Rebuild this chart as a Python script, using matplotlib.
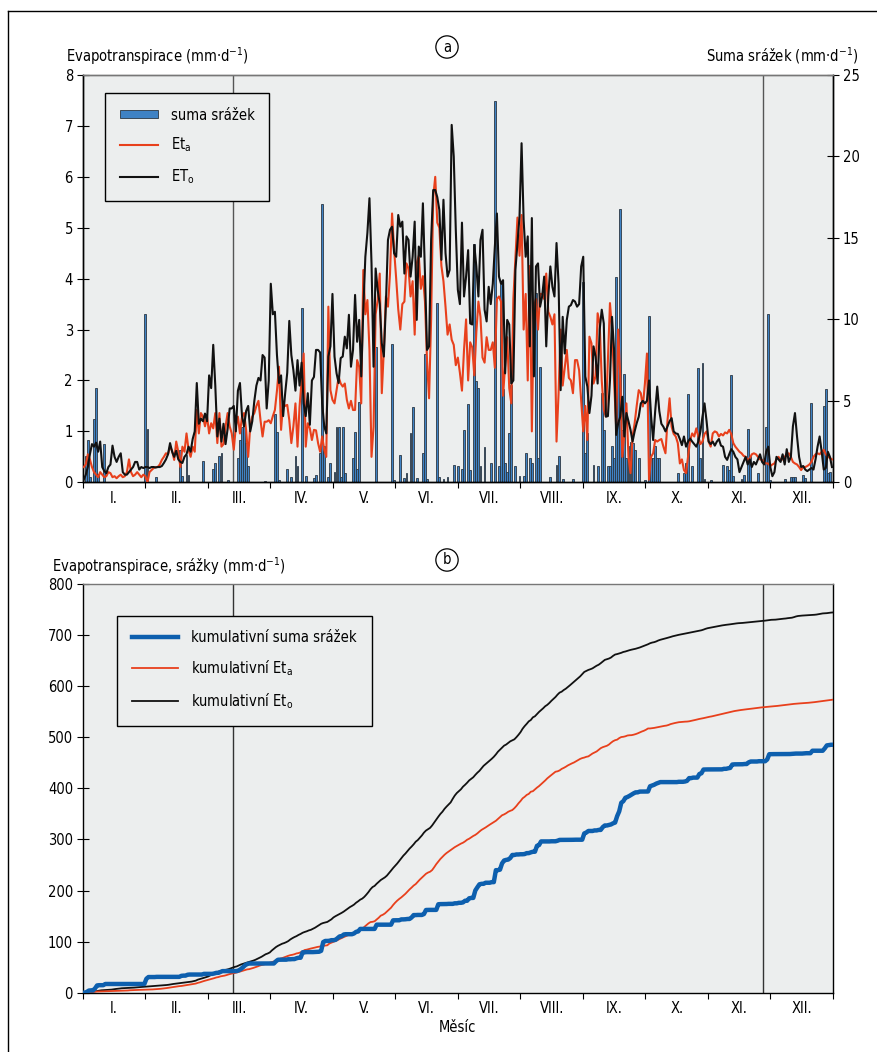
import os
import numpy as np
import matplotlib
matplotlib.use("Agg")
import matplotlib.pyplot as plt
from matplotlib import font_manager as fm
from matplotlib.patches import Patch
from matplotlib.lines import Line2D

# the reference uses a condensed sans; take one if installed
cond = [f for f in fm.fontManager.ttflist
        if 'Narrow' in f.name or 'Condensed' in f.name
        or 'Condensed' in os.path.basename(f.fname)
        or f.stretch in ('condensed', 'semi-condensed', 'extra-condensed')]
cond.sort(key=lambda f: (0 if 'Liberation' in f.name else 1, 'Bold' in f.fname, 'Oblique' in f.fname or 'Italic' in f.fname))
if cond:
    plt.rcParams['font.family'] = [cond[0].name, 'DejaVu Sans']
    plt.rcParams['font.stretch'] = cond[0].stretch if cond[0].stretch != 'normal' else 'condensed'
    FS = 10.5
else:
    plt.rcParams['font.family'] = ['Liberation Sans', 'DejaVu Sans']
    FS = 10.0

### DATA ###

months = ['I.', 'II.', 'III.', 'IV.', 'V.', 'VI.', 'VII.', 'VIII.', 'IX.', 'X.', 'XI.', 'XII.']
season_marks = [73, 331]   # days marked by the vertical lines

# daily reference evapotranspiration ET_o (mm/d), Jan..Dec
eto = [
    0.05, 0.15, 0.3, 0.55, 0.75, 0.7, 0.78, 0.6, 0.8, 0.3, 0.22, 0.18, 0.3, 0.35, 0.72, 0.5,
    0.4, 0.5, 0.57, 0.2, 0.15, 0.15, 0.2, 0.25, 0.3, 0.4, 0.4, 0.25, 0.3, 0.28, 0.3,
    0.3, 0.28, 0.3, 0.3, 0.29, 0.3, 0.3, 0.32, 0.38, 0.45, 0.55, 0.77, 0.6, 0.5, 0.62, 0.45,
    0.4, 0.38, 0.5, 0.55, 0.7, 0.6, 0.85, 1.0, 1.95, 1.15, 1.25, 1.2,
    1.35, 1.2, 2.1, 1.85, 2.7, 1.9, 0.9, 1.25, 0.8, 1.15, 0.75, 1.05, 1.45, 1.45, 1.5, 1.0,
    1.8, 1.95, 1.3, 1.1, 1.4, 1.5, 1.0, 1.2, 1.6, 1.9, 2.05, 2.0, 2.5, 2.45, 1.45,
    2.0, 3.9, 3.3, 3.35, 2.5, 1.95, 2.1, 1.3, 1.75, 2.15, 3.17, 2.5, 2.2, 1.8, 2.4, 1.9,
    2.35, 1.55, 1.3, 1.75, 1.13, 2.0, 2.07, 2.6, 2.6, 2.55, 1.55, 1.1, 0.96, 2.47, 2.67,
    3.7, 2.47, 2.14, 1.95, 2.44, 2.47, 2.86, 2.63, 3.29, 2.27, 2.6, 3.68, 2.76, 3.19, 2.08, 3.39,
    4.43, 4.9, 5.58, 4.3, 2.27, 4.2, 3.78, 3.5, 2.73, 2.47, 3.5, 4.76, 4.96, 5.02, 4.5,
    4.43, 5.25, 5.02, 5.12, 4.1, 4.83, 4.76, 4.04, 4.43, 5.12, 3.19, 4.63, 4.43, 5.48, 4.1,
    2.6, 2.67, 4.76, 5.74, 5.74, 5.6, 5.35, 4.37, 5.55, 4.5, 4.04, 4.17, 7.02, 6.4, 4.96,
    3.78, 3.5, 5.1, 3.65, 4.04, 4.56, 3.12, 3.1, 4.66, 4.24, 3.65, 4.76, 4.96, 3.39, 3.16, 3.84,
    3.5, 3.9, 4.63, 5.28, 4.04, 3.9, 3.97, 2.14, 3.19, 3.1, 1.94, 2.0, 4.17, 4.7, 5.22,
    6.66, 5.15, 4.43, 4.83, 2.67, 5.19, 2.08, 4.24, 4.3, 3.45, 3.65, 4.04, 2.67, 3.65, 4.24, 3.84,
    3.65, 4.7, 3.9, 1.81, 3.25, 2.53, 3.19, 3.45, 3.48, 3.58, 3.55, 3.45, 3.5, 4.24, 4.43,
    2.08, 1.88, 1.36, 1.7, 2.67, 2.47, 1.94, 3.0, 3.39, 3.12, 1.29, 1.3, 2.0, 3.25, 2.6,
    0.93, 1.16, 1.29, 1.68, 0.9, 1.36, 1.2, 1.03, 0.8, 1.0, 1.16, 1.29, 1.55, 1.6, 1.55,
    1.6, 2.0, 1.3, 0.83, 1.4, 1.88, 1.4, 1.15, 1.09, 1.0, 1.1, 1.2, 1.26, 1.0, 0.96, 0.95,
    0.85, 0.73, 0.9, 0.7, 0.8, 0.86, 0.8, 0.75, 0.7, 0.8, 1.0, 1.29, 1.55, 1.2, 0.8,
    0.75, 0.8, 0.72, 0.8, 0.85, 0.72, 0.7, 0.5, 0.44, 0.55, 0.65, 0.6, 0.5, 0.45, 0.2,
    0.3, 0.4, 0.5, 0.35, 0.45, 0.3, 0.4, 0.35, 0.45, 0.55, 0.4, 0.35, 0.6, 0.7, 0.3,
    0.12, 0.2, 0.5, 0.45, 0.4, 0.55, 0.35, 0.65, 0.4, 0.5, 1.1, 1.36, 0.9, 0.5, 0.3,
    0.32, 0.25, 0.22, 0.25, 0.28, 0.25, 0.45, 0.7, 0.9, 0.6, 0.25, 0.28, 0.6, 0.5, 0.3,
]

# daily actual evapotranspiration Et_a (mm/d)
eta = [
    0.3, 0.35, 0.55, 0.45, 0.3, 0.2, 0.15, 0.1, 0.2, 0.15, 0.1, 0.12, 0.2, 0.18, 0.1, 0.12,
    0.08, 0.12, 0.15, 0.1, 0.12, 0.2, 0.45, 0.2, 0.12, 0.15, 0.2, 0.15, 0.1, 0.15, 0.12,
    0.0, 0.2, 0.24, 0.28, 0.3, 0.3, 0.35, 0.44, 0.5, 0.57, 0.55, 0.7, 0.62, 0.44, 0.8, 0.6,
    0.3, 0.7, 0.6, 0.96, 0.64, 0.5, 0.7, 0.6, 1.42, 0.96, 1.36, 1.29,
    1.1, 1.29, 0.96, 1.16, 1.06, 1.36, 0.77, 1.36, 0.7, 0.75, 1.1, 1.36, 1.1, 0.96, 0.64, 1.1,
    1.29, 0.96, 1.29, 1.36, 1.03, 0.5, 1.1, 1.29, 1.36, 1.5, 1.6, 1.22, 0.9, 1.19, 1.19,
    1.22, 1.16, 1.3, 1.42, 1.8, 2.27, 1.03, 1.55, 1.5, 1.52, 1.22, 0.77, 1.1, 1.55, 0.7, 1.49,
    2.0, 2.53, 0.7, 1.16, 1.06, 0.83, 1.03, 1.02, 0.77, 0.6, 0.9, 0.64, 0.5, 3.45, 1.81,
    1.62, 1.55, 1.81, 2.07, 1.94, 1.88, 1.94, 1.62, 1.45, 1.6, 1.42, 1.42, 2.4, 2.27, 1.55, 4.17,
    3.3, 3.58, 2.6, 0.5, 1.09, 3.3, 3.58, 4.1, 1.75, 2.6, 3.65, 3.45, 4.1, 5.28, 4.56,
    4.0, 3.4, 3.0, 3.5, 3.55, 4.3, 4.2, 3.65, 3.95, 2.9, 4.3, 4.45, 3.8, 4.05, 3.55,
    2.4, 1.65, 3.2, 5.6, 6.0, 5.1, 5.0, 4.25, 3.95, 3.45, 2.9, 3.1, 2.8, 2.7, 2.3,
    2.45, 2.15, 1.8, 2.6, 3.2, 2.0, 2.75, 2.65, 2.1, 2.95, 3.55, 3.25, 2.45, 2.35, 2.85, 2.6,
    2.6, 2.75, 2.25, 3.6, 3.65, 3.55, 1.7, 2.3, 2.85, 1.85, 1.55, 3.6, 4.4, 5.2, 4.45,
    5.25, 3.0, 3.7, 2.0, 4.25, 1.0, 3.45, 3.6, 3.0, 3.7, 3.7, 3.6, 4.1, 3.35, 3.25, 3.1,
    3.3, 0.8, 1.75, 3.0, 1.9, 2.25, 2.6, 2.05, 2.0, 1.75, 2.4, 2.4, 2.2, 1.6, 1.0,
    1.5, 0.83, 2.86, 2.73, 1.94, 2.08, 3.32, 3.12, 2.0, 1.42, 1.29, 2.4, 3.52, 3.0, 2.0,
    1.09, 3.0, 2.08, 0.5, 0.96, 1.55, 0.5, 0.18, 0.9, 1.16, 1.5, 1.81, 1.75, 1.49, 1.94,
    2.53, 0.05, 0.5, 0.57, 0.83, 0.8, 0.83, 0.85, 0.7, 0.57, 1.22, 1.65, 1.09, 0.95, 0.9, 0.77,
    0.37, 0.45, 0.24, 0.18, 0.5, 0.83, 0.96, 0.9, 1.06, 0.9, 0.75, 0.8, 0.95, 1.0, 0.8,
    0.7, 0.96, 1.0, 0.98, 0.9, 0.95, 0.92, 0.98, 0.96, 1.03, 0.95, 0.77, 0.7, 0.65, 0.6,
    0.57, 0.52, 0.5, 0.44, 0.47, 0.55, 0.57, 0.55, 0.5, 0.45, 0.44, 0.4, 0.37, 0.37, 0.32,
    0.35, 0.37, 0.45, 0.5, 0.44, 0.45, 0.5, 0.55, 0.57, 0.5, 0.4, 0.37, 0.35, 0.3, 0.24,
    0.3, 0.3, 0.32, 0.35, 0.4, 0.5, 0.55, 0.57, 0.55, 0.6, 0.64, 0.55, 0.5, 0.48, 0.45,
]

# days with precipitation (day of year, 0 = 1 Jan) and daily sums (mm)
rain_day = [
    1, 2, 3, 5, 6, 7, 10, 30, 31, 35, 47, 48, 50, 51, 58,
    63, 64, 66, 67, 70, 75, 76, 77, 78, 79, 80, 88,
    93, 94, 95, 99, 101, 103, 104, 106, 108, 112, 113,
    115, 116, 117, 119, 120, 122, 123, 124, 125, 126, 127, 131, 132, 133, 134, 142, 150, 151,
    154, 156, 157, 159, 160, 162, 165, 166, 167, 172, 173, 175, 177, 180, 182,
    184, 185, 187, 188, 190, 191, 192, 193, 195, 198, 200, 202, 203, 204, 205, 206, 207, 208,
    210, 212, 214, 215, 217, 218, 220, 221, 222, 227, 230, 231, 233, 238,
    243, 244, 245, 248, 250, 252, 253, 255, 256, 257, 258, 259, 260, 261, 262, 263, 264, 265, 266,
    267, 268, 270, 273, 275, 276, 277, 278, 279, 280, 289, 292, 293, 294, 296, 299, 300, 301, 302,
    305, 311, 313, 314, 315, 316, 320, 321, 323, 324, 328, 332, 333, 334,
    341, 344, 345, 346, 350, 351, 354, 360, 361, 362, 363,
]
rain_mm = [
    1.6, 2.6, 0.3, 3.9, 5.8, 0.5, 2.35, 10.3, 3.3, 0.35, 2.0, 0.4, 1.7, 0.45, 1.3,
    0.8, 1.2, 1.6, 1.8, 0.15, 1.5, 2.6, 3.4, 3.8, 2.4, 1.0, 0.1,
    4.2, 3.1, 0.15, 0.8, 0.35, 1.6, 1.0, 10.7, 0.4, 0.25, 0.45,
    1.8, 17.1, 2.2, 0.3, 1.2, 0.65, 3.4, 3.4, 0.3, 3.4, 0.55, 1.5, 3.1, 0.8, 4.95, 8.3, 8.5, 0.15,
    1.7, 0.25, 0.55, 3.0, 4.65, 0.25, 1.8, 7.9, 0.2, 11.0, 0.3, 0.2, 0.3, 1.06, 1.0,
    0.8, 3.2, 4.8, 0.75, 14.6, 6.2, 5.8, 1.0, 2.15, 1.2, 23.4, 1.0, 12.2, 5.7, 1.2, 0.65, 3.0, 6.0,
    1.0, 0.4, 0.4, 1.8, 1.5, 1.2, 11.6, 1.5, 7.1, 0.3, 1.06, 1.6, 0.2, 0.2,
    12.3, 1.8, 3.0, 1.06, 1.0, 5.5, 3.2, 1.0, 1.0, 2.2, 1.5, 12.6, 9.35, 16.75, 3.2, 6.65, 1.5, 2.2, 2.5,
    2.4, 2.0, 1.5, 0.15, 10.2, 1.5, 1.5, 2.2, 1.5, 1.5, 0.6, 0.6, 1.2, 5.4, 1.0, 7.0, 1.5, 7.3, 0.2,
    0.15, 1.06, 1.0, 0.75, 6.6, 0.4, 0.2, 0.45, 3.3, 1.6, 0.6, 3.4, 10.3, 0.15,
    0.2, 0.3, 0.3, 0.3, 0.45, 0.25, 4.85, 4.7, 5.7, 0.6, 0.65,
]

### BUILD ###

ndays = len(eto)
rain = np.zeros(ndays)
rain[rain_day] = rain_mm
days = np.arange(ndays) + 0.5
cum_x = np.arange(ndays + 1)
cum_rain = np.concatenate([[0], np.cumsum(rain)])
cum_eta = np.concatenate([[0], np.cumsum(eta)])
cum_eto = np.concatenate([[0], np.cumsum(eto)])

month_edges = np.arange(13) * ndays / 12
month_mid = month_edges[:-1] + ndays / 24

BG = '#eceeee'
BAR = '#3f82c4'
BAR_EDGE = '#2b3742'
RED = '#e8401c'
BLUE = '#0d5fae'

W, H = 878, 1052
fig = plt.figure(figsize=(W / 100, H / 100), dpi=100)

def box(x0, y0, x1, y1):
    return [x0 / W, 1 - y1 / H, (x1 - x0) / W, (y1 - y0) / H]

def months_axis(ax):
    ax.set_xlim(0, ndays)
    ax.set_xticks(month_edges)
    ax.set_xticklabels([])
    ax.set_xticks(month_mid, minor=True)
    ax.set_xticklabels(months, minor=True, fontsize=FS)
    ax.tick_params(axis='x', which='major', direction='out', length=4, width=0.8)
    ax.tick_params(axis='x', which='minor', length=0, pad=6)

def style(ax):
    ax.spines['top'].set_color('#777777')
    for s in ['left', 'bottom', 'right']:
        ax.spines[s].set_color('black')
    for s in ax.spines.values():
        s.set_linewidth(1.0)

### PANEL A ###

axr = fig.add_axes(box(82.7, 75, 833, 482.3))
axr.set_facecolor(BG)
axr.bar(days, rain, width=0.9, color=BAR, edgecolor=BAR_EDGE, linewidth=0.6, zorder=2)
axr.set_ylim(0, 25)
axr.set_yticks(range(0, 26, 5))
for d in season_marks:
    axr.axvline(d, color='#555555', lw=1.0, zorder=1)
months_axis(axr)
style(axr)

axl = axr.twinx()
axl.plot(days, eta, color=RED, lw=1.5, zorder=3)
axl.plot(days, eto, color='#111111', lw=1.5, zorder=4)
axl.set_ylim(0, 8)
axl.set_yticks(range(0, 9))
axl.set_xlim(0, ndays)
style(axl)

# rain scale on the right, evapotranspiration scale on the left
axr.yaxis.tick_right()
axl.yaxis.tick_left()
for a in (axr, axl):
    a.tick_params(axis='y', direction='inout', length=8, width=0.8, labelsize=FS, pad=3)

handles = [
    Patch(facecolor=BAR, edgecolor=BAR_EDGE, linewidth=0.6),
    Line2D([], [], color=RED, lw=1.5),
    Line2D([], [], color='#111111', lw=1.5),
]
labels = ['suma srážek', r'Et$_\mathregular{a}$', r'ET$_\mathregular{o}$']
leg = axl.legend(handles, labels, loc='upper left', bbox_to_anchor=(0.03, 0.956),
                 fontsize=FS, frameon=True, fancybox=False, edgecolor='black',
                 facecolor=BG, framealpha=1, borderpad=1.0, labelspacing=0.9,
                 handlelength=2.6, handleheight=0.45, handletextpad=0.9, borderaxespad=0)
leg.get_frame().set_linewidth(1.0)

fig.text(66 / W, 1 - 56 / H, r'Evapotranspirace (mm·d$^{\mathregular{-1}}$)', fontsize=FS,
         ha='left', va='center')
fig.text(858 / W, 1 - 56 / H, r'Suma srážek (mm·d$^{\mathregular{-1}}$)', fontsize=FS,
         ha='right', va='center')
fig.text(447 / W, 1 - 47 / H, 'a', fontsize=FS, ha='center', va='center',
         bbox=dict(boxstyle='circle,pad=0.25', facecolor='white', edgecolor='black', lw=0.9))

### PANEL B ###

axb = fig.add_axes(box(82.7, 584, 833, 992.7))
axb.set_facecolor(BG)
for d in season_marks:
    axb.axvline(d, color='#333333', lw=1.0, zorder=1)
axb.plot(cum_x, cum_eto, color='#111111', lw=1.3, zorder=3, label='kumulativní Et$_\\mathregular{o}$')
axb.plot(cum_x, cum_eta, color=RED, lw=1.3, zorder=3, label='kumulativní Et$_\\mathregular{a}$')
axb.plot(cum_x, cum_rain, color=BLUE, lw=3.2, zorder=4, label='kumulativní suma srážek')
axb.set_ylim(0, 800)
axb.set_yticks(range(0, 801, 100))
axb.tick_params(axis='y', direction='inout', length=8, width=0.8, labelsize=FS, pad=3)
months_axis(axb)
style(axb)
axb.set_xlabel('Měsíc', fontsize=FS, labelpad=3)

h, l = axb.get_legend_handles_labels()
order = [2, 1, 0]
legb = axb.legend([h[i] for i in order], [l[i] for i in order], loc='upper left',
                  bbox_to_anchor=(0.0457, 0.922), fontsize=FS, frameon=True, fancybox=False,
                  edgecolor='black', facecolor=BG, framealpha=1, borderpad=1.0,
                  labelspacing=0.9, handlelength=3.2, handletextpad=0.9, borderaxespad=0)
legb.get_frame().set_linewidth(1.0)

fig.text(52 / W, 1 - 566 / H, r'Evapotranspirace, srážky (mm·d$^{\mathregular{-1}}$)',
         fontsize=FS, ha='left', va='center')
fig.text(447 / W, 1 - 560 / H, 'b', fontsize=FS, ha='center', va='center',
         bbox=dict(boxstyle='circle,pad=0.25', facecolor='white', edgecolor='black', lw=0.9))

# outer frame (left and top edges)
fig.add_artist(Line2D([8 / W, 8 / W], [0, 1 - 11 / H], color='black', lw=1.0))
fig.add_artist(Line2D([8 / W, 1], [1 - 11 / H, 1 - 11 / H], color='black', lw=1.0))

fig.savefig('out.png', dpi=100)
